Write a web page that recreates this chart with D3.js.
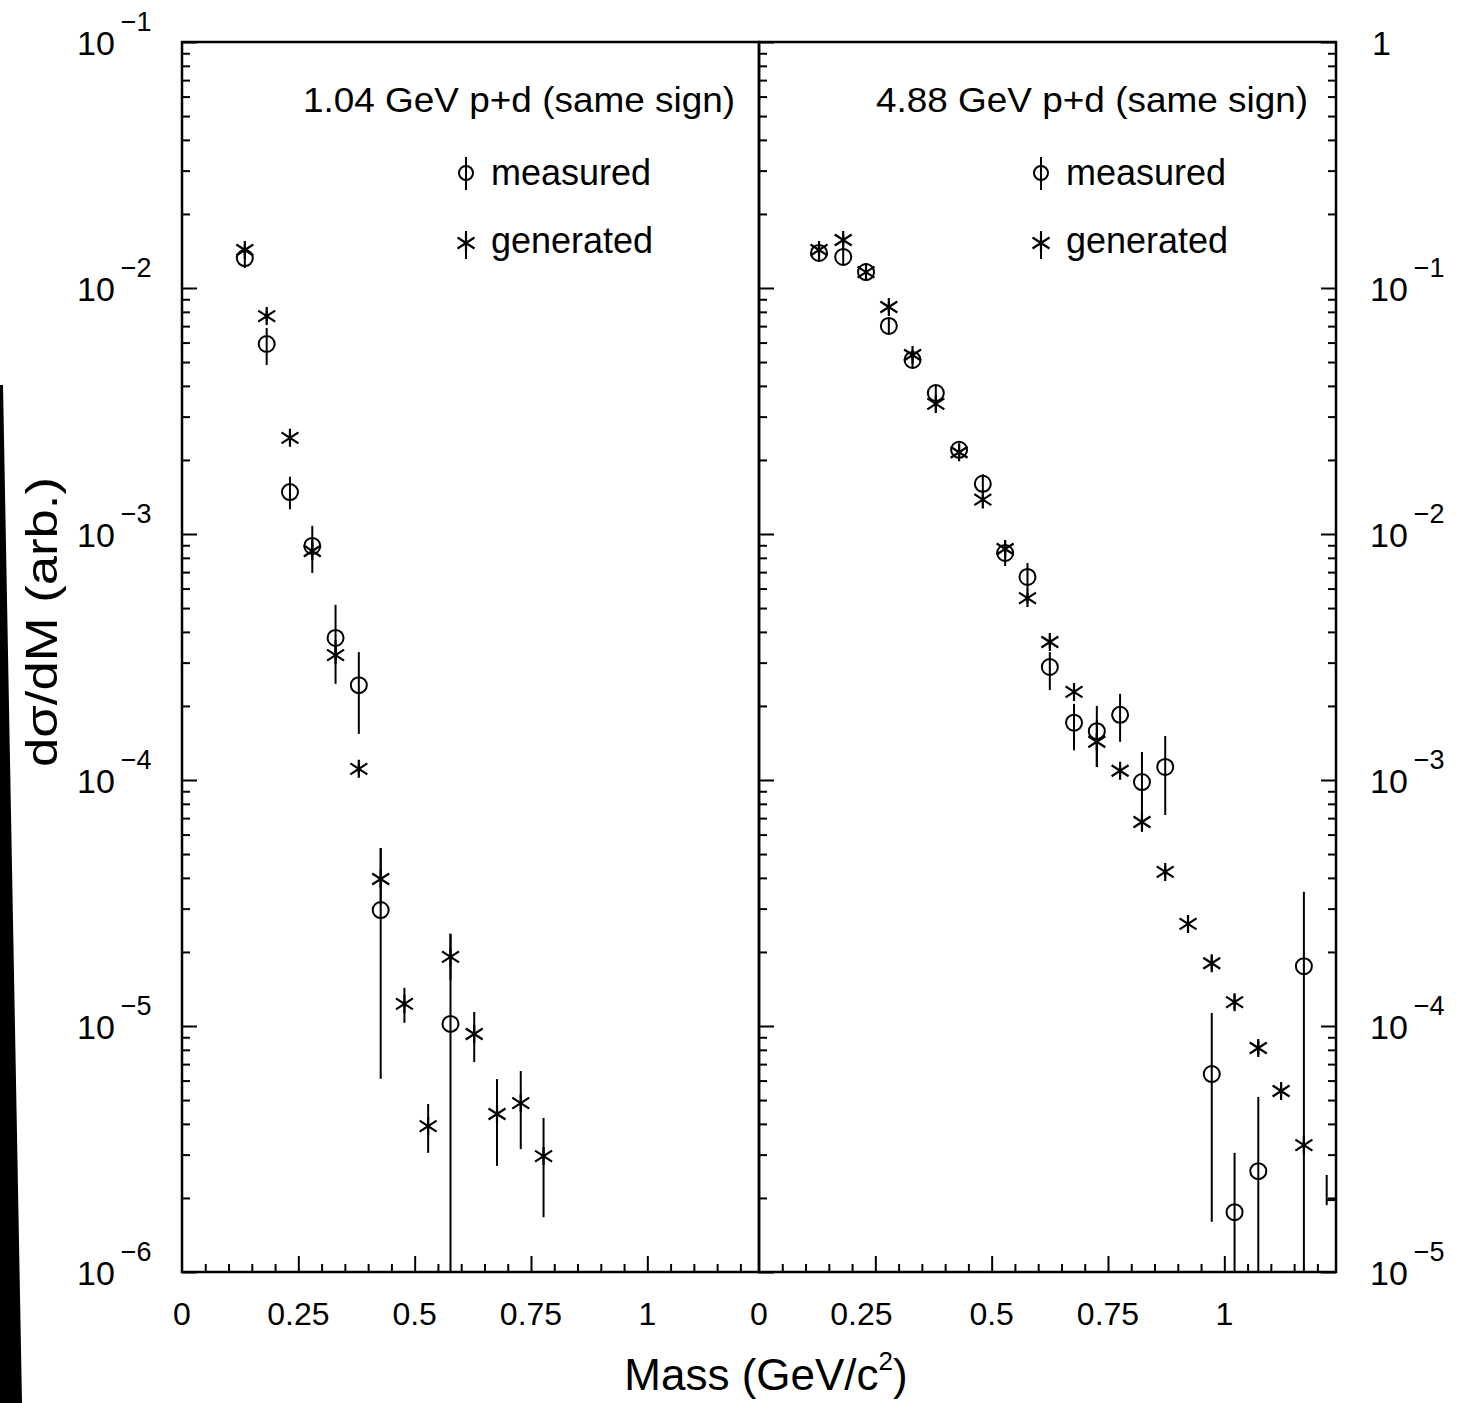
<!DOCTYPE html>
<html>
<head>
<meta charset="utf-8">
<script src="https://cdn.jsdelivr.net/npm/d3@7"></script>
<style>
  body { margin: 0; background: #fff; }
  svg { display: block; }
  text { font-family: "Liberation Sans", Arial, sans-serif; fill: #000; }
</style>
</head>
<body>
<div class="mass-chart"></div>
<script>
const panelTitles = ["1.04 GeV p+d (same sign)", "4.88 GeV p+d (same sign)"];
const legendLabels = ["measured", "generated"];
const massTicks = [0, 0.25, 0.5, 0.75, 1];
const massTickLabels = ["0", "0.25", "0.5", "0.75", "1"];
const lowDecades = [-6, -5, -4, -3, -2, -1];
const highDecades = [-5, -4, -3, -2, -1, 0];

// rows: [mass, value, error low, error high]
const lowMeasured = [
  [0.135, 1.324e-2, 1.206e-2, 1.427e-2],
  [0.182, 5.92e-3, 4.86e-3, 6.88e-3],
  [0.232, 1.48e-3, 1.26e-3, 1.71e-3],
  [0.280, 8.94e-4, 8.14e-4, 1.08e-3],
  [0.330, 3.78e-4, 3.08e-4, 5.15e-4],
  [0.380, 2.43e-4, 1.54e-4, 3.31e-4],
  [0.427, 2.96e-5, 6.1e-6, 5.29e-5],
  [0.577, 1.02e-5, 5e-7, 2.37e-5]
];
const lowGenerated = [
  [0.135, 1.427e-2, 1.362e-2, 1.496e-2],
  [0.182, 7.69e-3, 7.34e-3, 8.06e-3],
  [0.232, 2.46e-3, 2.34e-3, 2.57e-3],
  [0.280, 8.53e-4, 6.94e-4, 9.45e-4],
  [0.330, 3.22e-4, 2.46e-4, 3.71e-4],
  [0.380, 1.11e-4, 1.06e-4, 1.16e-4],
  [0.427, 3.96e-5, 3.10e-5, 5.29e-5],
  [0.478, 1.23e-5, 1.03e-5, 1.43e-5],
  [0.529, 3.92e-6, 3.05e-6, 4.82e-6],
  [0.577, 1.91e-5, 1.54e-5, 2.37e-5],
  [0.628, 9.28e-6, 7.14e-6, 1.14e-5],
  [0.677, 4.39e-6, 2.70e-6, 6.09e-6],
  [0.728, 4.86e-6, 3.16e-6, 6.56e-6],
  [0.777, 2.96e-6, 1.67e-6, 4.23e-6]
];
const highMeasured = [
  [0.129, 0.1388, 0.1288, 0.1496],
  [0.181, 0.1337, 0.1252, 0.1427],
  [0.230, 0.1161, 0.1098, 0.1229],
  [0.279, 0.0701, 0.0656, 0.0748],
  [0.330, 0.0510, 0.0477, 0.0544],
  [0.380, 0.0374, 0.0350, 0.0403],
  [0.430, 0.0220, 0.0208, 0.0232],
  [0.481, 0.0160, 0.0146, 0.0175],
  [0.529, 8.37e-3, 7.41e-3, 9.02e-3],
  [0.577, 6.69e-3, 5.92e-3, 7.62e-3],
  [0.625, 2.88e-3, 2.32e-3, 3.31e-3],
  [0.677, 1.71e-3, 1.32e-3, 2.04e-3],
  [0.726, 1.58e-3, 1.13e-3, 2.00e-3],
  [0.776, 1.84e-3, 1.43e-3, 2.24e-3],
  [0.823, 9.81e-4, 7.21e-4, 1.30e-3],
  [0.873, 1.13e-3, 7.21e-4, 1.51e-3],
  [0.973, 6.38e-5, 1.60e-5, 1.13e-4],
  [1.022, 1.75e-5, 5e-6, 3.05e-5],
  [1.073, 2.57e-5, 5e-6, 5.15e-5],
  [1.171, 1.75e-4, 5e-6, 3.51e-4]
];
const highGenerated = [
  [0.129, 0.1427, 0.1362, 0.1496],
  [0.181, 0.1567, 0.1496, 0.1642],
  [0.230, 0.1161, 0.1108, 0.1217],
  [0.279, 0.0837, 0.0799, 0.0877],
  [0.330, 0.0534, 0.0510, 0.0560],
  [0.380, 0.0338, 0.0319, 0.0357],
  [0.430, 0.0215, 0.0206, 0.0226],
  [0.481, 0.0138, 0.0131, 0.0144],
  [0.529, 8.69e-3, 8.22e-3, 9.19e-3],
  [0.577, 5.49e-3, 5.24e-3, 5.76e-3],
  [0.625, 3.64e-3, 3.44e-3, 3.85e-3],
  [0.677, 2.28e-3, 2.15e-3, 2.41e-3],
  [0.726, 1.43e-3, 1.13e-3, 1.75e-3],
  [0.776, 1.09e-3, 1.03e-3, 1.15e-3],
  [0.823, 6.75e-4, 6.15e-4, 7.41e-4],
  [0.873, 4.23e-4, 4.00e-4, 4.47e-4],
  [0.922, 2.60e-4, 2.46e-4, 2.75e-4],
  [0.973, 1.80e-4, 1.69e-4, 1.93e-4],
  [1.022, 1.25e-4, 1.17e-4, 1.34e-4],
  [1.073, 8.14e-5, 7.62e-5, 8.69e-5],
  [1.122, 5.44e-5, 5.10e-5, 5.81e-5],
  [1.171, 3.28e-5, 3.08e-5, 3.50e-5]
];
// last bin, only the bar is left at the frame edge
const highEdgeBar = [[1.220, 1.96e-5, 1.87e-5, 2.48e-5]];

const width = 1468, height = 1403;
const plotTop = 42, plotBottom = 1272;

const svg = d3.select('.mass-chart').append('svg')
    .attr('width', width)
    .attr('height', height)
    .attr('viewBox', [0, 0, width, height]);

// scanner edge on the left of the page
svg.append('path')
    .attr('d', 'M0,385L3,385L22,1403L0,1403Z')
    .style('fill', '#000');

const yLow = d3.scaleLog().domain([1e-6, 1e-1]).range([plotBottom, plotTop]);
const yHigh = d3.scaleLog().domain([1e-5, 1]).range([plotBottom, plotTop]);

const panels = [
    {x0: 182, x1: 759, y: yLow, meas: lowMeasured, gen: lowGenerated, title: panelTitles[0], titleEnd: 735, legX: 466, textX: 491, clip: 'clipLow'},
    {x0: 759, x1: 1336, y: yHigh, meas: highMeasured, gen: highGenerated, title: panelTitles[1], titleEnd: 1308, legX: 1041, textX: 1066, clip: 'clipHigh'}
];

const starPath = 'M0,-9V9M-8.5,-5.5L8.5,5.5M-8.5,5.5L8.5,-5.5';
const minorMass = d3.range(1, 25).map(i => i * 0.05).filter(v => Math.abs(v / 0.25 - Math.round(v / 0.25)) > 1e-6);

function logTicks(scale) {
    const [a, b] = scale.domain();
    const lo = Math.round(Math.log10(a)), hi = Math.round(Math.log10(b));
    const major = [], minor = [];
    for (let e = lo; e <= hi; e++) {
        major.push(Math.pow(10, e));
        if (e < hi) {
            for (let m = 2; m <= 9; m++) minor.push(m * Math.pow(10, e));
        }
    }
    return {major, minor};
}

function tickAxis(g, axis, values, size) {
    g.call(axis.tickValues(values).tickSize(size).tickFormat(''))
        .call(g => g.select('.domain').remove())
        .call(g => g.selectAll('line').style('stroke', '#000').style('stroke-width', 2));
}

panels.forEach((p, i) => {
    const x = d3.scaleLinear().domain([0, 1.24]).range([p.x0, p.x1]);
    const lt = logTicks(p.y);

    svg.append('clipPath').attr('id', p.clip)
        .append('rect')
        .attr('x', p.x0).attr('y', plotTop)
        .attr('width', p.x1 - p.x0).attr('height', plotBottom - plotTop);

    // mass ticks along the bottom, pointing inward
    svg.append('g').attr('transform', `translate(0,${plotBottom})`)
        .call(g => tickAxis(g, d3.axisTop(x), minorMass, 8));
    svg.append('g').attr('transform', `translate(0,${plotBottom})`)
        .call(g => tickAxis(g, d3.axisTop(x), massTicks.slice(1), 16));

    // log ticks: left edge pointing right
    svg.append('g').attr('transform', `translate(${p.x0},0)`)
        .call(g => tickAxis(g, d3.axisRight(p.y), lt.minor, 8));
    svg.append('g').attr('transform', `translate(${p.x0},0)`)
        .call(g => tickAxis(g, d3.axisRight(p.y), lt.major, 15));
    if (i === 1) {
        svg.append('g').attr('transform', `translate(${p.x1},0)`)
            .call(g => tickAxis(g, d3.axisLeft(p.y), lt.minor, 8));
        svg.append('g').attr('transform', `translate(${p.x1},0)`)
            .call(g => tickAxis(g, d3.axisLeft(p.y), lt.major, 15));
    }

    // frame
    svg.append('rect')
        .attr('x', p.x0).attr('y', plotTop)
        .attr('width', p.x1 - p.x0).attr('height', plotBottom - plotTop)
        .style('fill', 'none').style('stroke', '#000').style('stroke-width', 2.5);

    // mass labels
    svg.append('g').selectAll('text')
        .data(massTicks)
        .enter()
        .append('text')
        .attr('x', d => x(d) + (i === 1 && d === 0.25 ? -14 : 0))
        .attr('y', 1325)
        .attr('text-anchor', 'middle')
        .style('font-size', '32px')
        .text((d, k) => massTickLabels[k]);

    const plot = svg.append('g').attr('clip-path', `url(#${p.clip})`);

    const bars = p.gen.concat(p.meas).concat(i === 1 ? highEdgeBar : []);
    plot.selectAll('line.err')
        .data(bars)
        .enter()
        .append('line')
        .attr('class', 'err')
        .attr('x1', d => x(d[0])).attr('x2', d => x(d[0]))
        .attr('y1', d => p.y(d[2])).attr('y2', d => p.y(d[3]))
        .style('stroke', '#000').style('stroke-width', 2);

    if (i === 1) {
        plot.selectAll('line.edge')
            .data(highEdgeBar)
            .enter()
            .append('line')
            .attr('class', 'edge')
            .attr('x1', d => x(d[0])).attr('x2', p.x1)
            .attr('y1', d => p.y(d[1])).attr('y2', d => p.y(d[1]))
            .style('stroke', '#000').style('stroke-width', 2);
    }

    plot.selectAll('path.gen')
        .data(p.gen)
        .enter()
        .append('path')
        .attr('class', 'gen')
        .attr('d', starPath)
        .attr('transform', d => `translate(${x(d[0])},${p.y(d[1])})`)
        .style('fill', 'none').style('stroke', '#000').style('stroke-width', 2.2);

    plot.selectAll('circle.meas')
        .data(p.meas)
        .enter()
        .append('circle')
        .attr('class', 'meas')
        .attr('cx', d => x(d[0]))
        .attr('cy', d => p.y(d[1]))
        .attr('r', 8)
        .style('fill', 'none').style('stroke', '#000').style('stroke-width', 2);

    // title and legend
    svg.append('text')
        .attr('x', p.titleEnd).attr('y', 112)
        .attr('text-anchor', 'end')
        .attr('textLength', 432)
        .attr('lengthAdjust', 'spacingAndGlyphs')
        .style('font-size', '35px')
        .text(p.title);

    svg.append('circle')
        .attr('cx', p.legX).attr('cy', 173).attr('r', 7)
        .style('fill', 'none').style('stroke', '#000').style('stroke-width', 2);
    svg.append('line')
        .attr('x1', p.legX).attr('x2', p.legX).attr('y1', 157).attr('y2', 190)
        .style('stroke', '#000').style('stroke-width', 2);
    svg.append('path')
        .attr('d', starPath)
        .attr('transform', `translate(${p.legX},243)`)
        .style('fill', 'none').style('stroke', '#000').style('stroke-width', 2.2);
    svg.append('line')
        .attr('x1', p.legX).attr('x2', p.legX).attr('y1', 231).attr('y2', 259)
        .style('stroke', '#000').style('stroke-width', 2);

    svg.append('text')
        .attr('x', p.textX).attr('y', 185)
        .style('font-size', '36px')
        .text(legendLabels[0]);
    svg.append('text')
        .attr('x', p.textX).attr('y', 253)
        .style('font-size', '36px')
        .text(legendLabels[1]);
});

// decade labels
function decadeLabels(scale, decades, x0, oneX) {
    const g = svg.append('g');
    decades.forEach(e => {
        const yy = scale(Math.pow(10, e));
        if (e === 0) {
            g.append('text').attr('x', oneX).attr('y', yy + 13)
                .style('font-size', '34px').text('1');
            return;
        }
        const t = g.append('text').attr('x', x0).attr('y', yy + 13)
            .style('font-size', '34px');
        t.append('tspan').text('10');
        t.append('tspan').attr('dx', 6).attr('dy', -24)
            .style('font-size', '27px').text('\u2212' + Math.abs(e));
    });
}
decadeLabels(yLow, lowDecades, 77, 0);
decadeLabels(yHigh, highDecades, 1370, 1372);

// axis titles
const xTitle = svg.append('text')
    .attr('x', 766).attr('y', 1390)
    .attr('text-anchor', 'middle')
    .style('font-size', '44px');
xTitle.append('tspan').text('Mass (GeV/c');
xTitle.append('tspan').attr('dy', -20).style('font-size', '26px').text('2');
xTitle.append('tspan').attr('dy', 20).text(')');

svg.append('text')
    .attr('transform', 'translate(57,622) rotate(-90)')
    .attr('text-anchor', 'middle')
    .attr('textLength', 290)
    .attr('lengthAdjust', 'spacingAndGlyphs')
    .style('font-size', '44px')
    .text('d\u03c3/dM (arb.)');
</script>
</body>
</html>
